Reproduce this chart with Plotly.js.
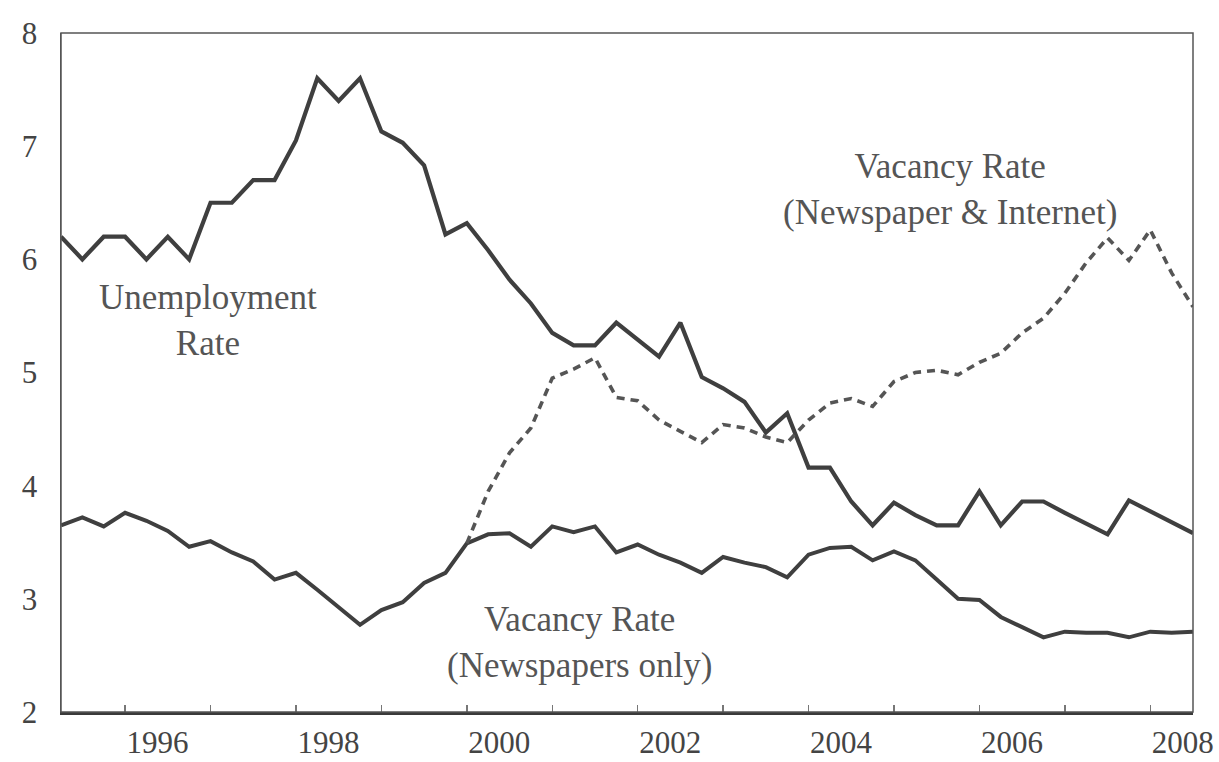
<!DOCTYPE html>
<html>
<head>
<meta charset="utf-8">
<script src="https://cdn.plot.ly/plotly-3.0.1.min.js"></script>
<style>html,body{margin:0;padding:0;background:#fff;}#chart{width:1219px;height:762px;}</style>
</head>
<body>
<div id="chart"></div>
<script>
// Quarterly observations
const quarters = ["1995Q2","1995Q3","1995Q4",
  "1996Q1","1996Q2","1996Q3","1996Q4","1997Q1","1997Q2","1997Q3","1997Q4",
  "1998Q1","1998Q2","1998Q3","1998Q4","1999Q1","1999Q2","1999Q3","1999Q4",
  "2000Q1","2000Q2","2000Q3","2000Q4","2001Q1","2001Q2","2001Q3","2001Q4",
  "2002Q1","2002Q2","2002Q3","2002Q4","2003Q1","2003Q2","2003Q3","2003Q4",
  "2004Q1","2004Q2","2004Q3","2004Q4","2005Q1","2005Q2","2005Q3","2005Q4",
  "2006Q1","2006Q2","2006Q3","2006Q4","2007Q1","2007Q2","2007Q3","2007Q4",
  "2008Q1","2008Q2","2008Q3"];

const unemploymentRate = [6.2, 6.0, 6.2, 6.2, 6.0, 6.2, 6.0, 6.5, 6.5, 6.7,
  6.7, 7.05, 7.6, 7.4, 7.6, 7.13, 7.03, 6.83, 6.22, 6.32,
  6.08, 5.82, 5.61, 5.35, 5.24, 5.24, 5.44, 5.29, 5.14, 5.44,
  4.96, 4.86, 4.74, 4.47, 4.64, 4.16, 4.16, 3.86, 3.65, 3.85,
  3.74, 3.65, 3.65, 3.95, 3.65, 3.86, 3.86, 3.76, 3.67, 3.57,
  3.87, 3.77, 3.68, 3.58];

const vacancyNewspapers = [3.65, 3.72, 3.64, 3.76, 3.69, 3.60, 3.46, 3.51, 3.41, 3.33,
  3.17, 3.23, 3.08, 2.93, 2.77, 2.90, 2.97, 3.14, 3.23, 3.49,
  3.57, 3.58, 3.46, 3.64, 3.59, 3.64, 3.41, 3.48, 3.39, 3.32,
  3.23, 3.37, 3.32, 3.28, 3.19, 3.39, 3.45, 3.46, 3.34, 3.42,
  3.34, 3.17, 3.00, 2.99, 2.84, 2.75, 2.66, 2.71, 2.70, 2.70,
  2.66, 2.71, 2.70, 2.71];

const vacancyNewsInternet = [null, null, null, null, null, null, null, null, null, null,
  null, null, null, null, null, null, null, null, null, 3.49,
  3.95, 4.29, 4.51, 4.95, 5.03, 5.13, 4.78, 4.75, 4.58, 4.48,
  4.38, 4.54, 4.51, 4.43, 4.38, 4.58, 4.73, 4.77, 4.70, 4.92,
  5.00, 5.02, 4.98, 5.09, 5.17, 5.35, 5.48, 5.70, 5.97, 6.19,
  5.99, 6.26, 5.88, 5.58];

const yearLabels = ["1996","1998","2000","2002","2004","2006","2008"];
const yearTicks = ["1996","1997","1998","1999","2000","2001","2002","2003","2004","2005","2006","2007","2008"];
const yTicks = [2, 3, 4, 5, 6, 7, 8];

// convert quarter labels to decimal-year positions on the axis
const xq = quarters.map(q => parseInt(q.slice(0,4)) + (parseInt(q.slice(5)) - 1) / 4);

const serif = "Liberation Serif, Times New Roman, serif";
const lineCol = "#3f3f3f";

const traces = [
  {x: xq, y: unemploymentRate, type: "scatter", mode: "lines",
   line: {color: lineCol, width: 4.2}, hoverinfo: "skip"},
  {x: xq, y: vacancyNewspapers, type: "scatter", mode: "lines",
   line: {color: lineCol, width: 4}, hoverinfo: "skip"},
  {x: xq, y: vacancyNewsInternet, type: "scatter", mode: "lines",
   line: {color: "#555555", width: 3.6, dash: "8px,6px"}, connectgaps: false, hoverinfo: "skip"}
];

const layout = {
  width: 1219, height: 762,
  margin: {l: 61, r: 26, t: 33, b: 50},
  paper_bgcolor: "#ffffff", plot_bgcolor: "#ffffff",
  showlegend: false,
  font: {family: serif, color: "#444444"},
  xaxis: {
    range: [xq[0], xq[xq.length - 1]],
    tickmode: "array",
    tickvals: yearLabels.map(s => parseInt(s) + 0.38),
    ticktext: yearLabels,
    ticks: "", showgrid: false, zeroline: false,
    showline: true, linecolor: "#3a3a3a", linewidth: 3,
    tickfont: {family: serif, size: 31, color: "#444444"},
    ticklabelstandoff: 1,
    minor: {tickmode: "array", tickvals: yearTicks.map(s => parseInt(s)), ticks: "inside",
            ticklen: 7, tickwidth: 1.5, tickcolor: "#777777", showgrid: false}
  },
  yaxis: {
    range: [2, 8],
    tickmode: "array", tickvals: yTicks, ticktext: yTicks.map(String),
    ticks: "", showgrid: false, zeroline: false,
    showline: true, linecolor: "#555555", linewidth: 1.5,
    tickfont: {family: serif, size: 31, color: "#444444"},
    ticklabelstandoff: 16
  },
  shapes: [
    {type: "rect", xref: "paper", yref: "paper", x0: 0, x1: 1, y0: 0, y1: 1,
     line: {color: "#555555", width: 1.5}, layer: "above"}
  ],
  annotations: [
    {x: 1996.97, y: 5.46, xref: "x", yref: "y", text: "Unemployment<br>Rate",
     showarrow: false, align: "center", font: {family: serif, size: 35, color: "#555555"}},
    {x: 2005.65, y: 6.62, xref: "x", yref: "y", text: "Vacancy Rate<br>(Newspaper &amp; Internet)",
     showarrow: false, align: "center", font: {family: serif, size: 35, color: "#555555"}},
    {x: 2001.32, y: 2.61, xref: "x", yref: "y", text: "Vacancy Rate<br>(Newspapers only)",
     showarrow: false, align: "center", font: {family: serif, size: 35, color: "#555555"}}
  ]
};

Plotly.newPlot("chart", traces, layout, {staticPlot: true, displayModeBar: false});
</script>
</body>
</html>
